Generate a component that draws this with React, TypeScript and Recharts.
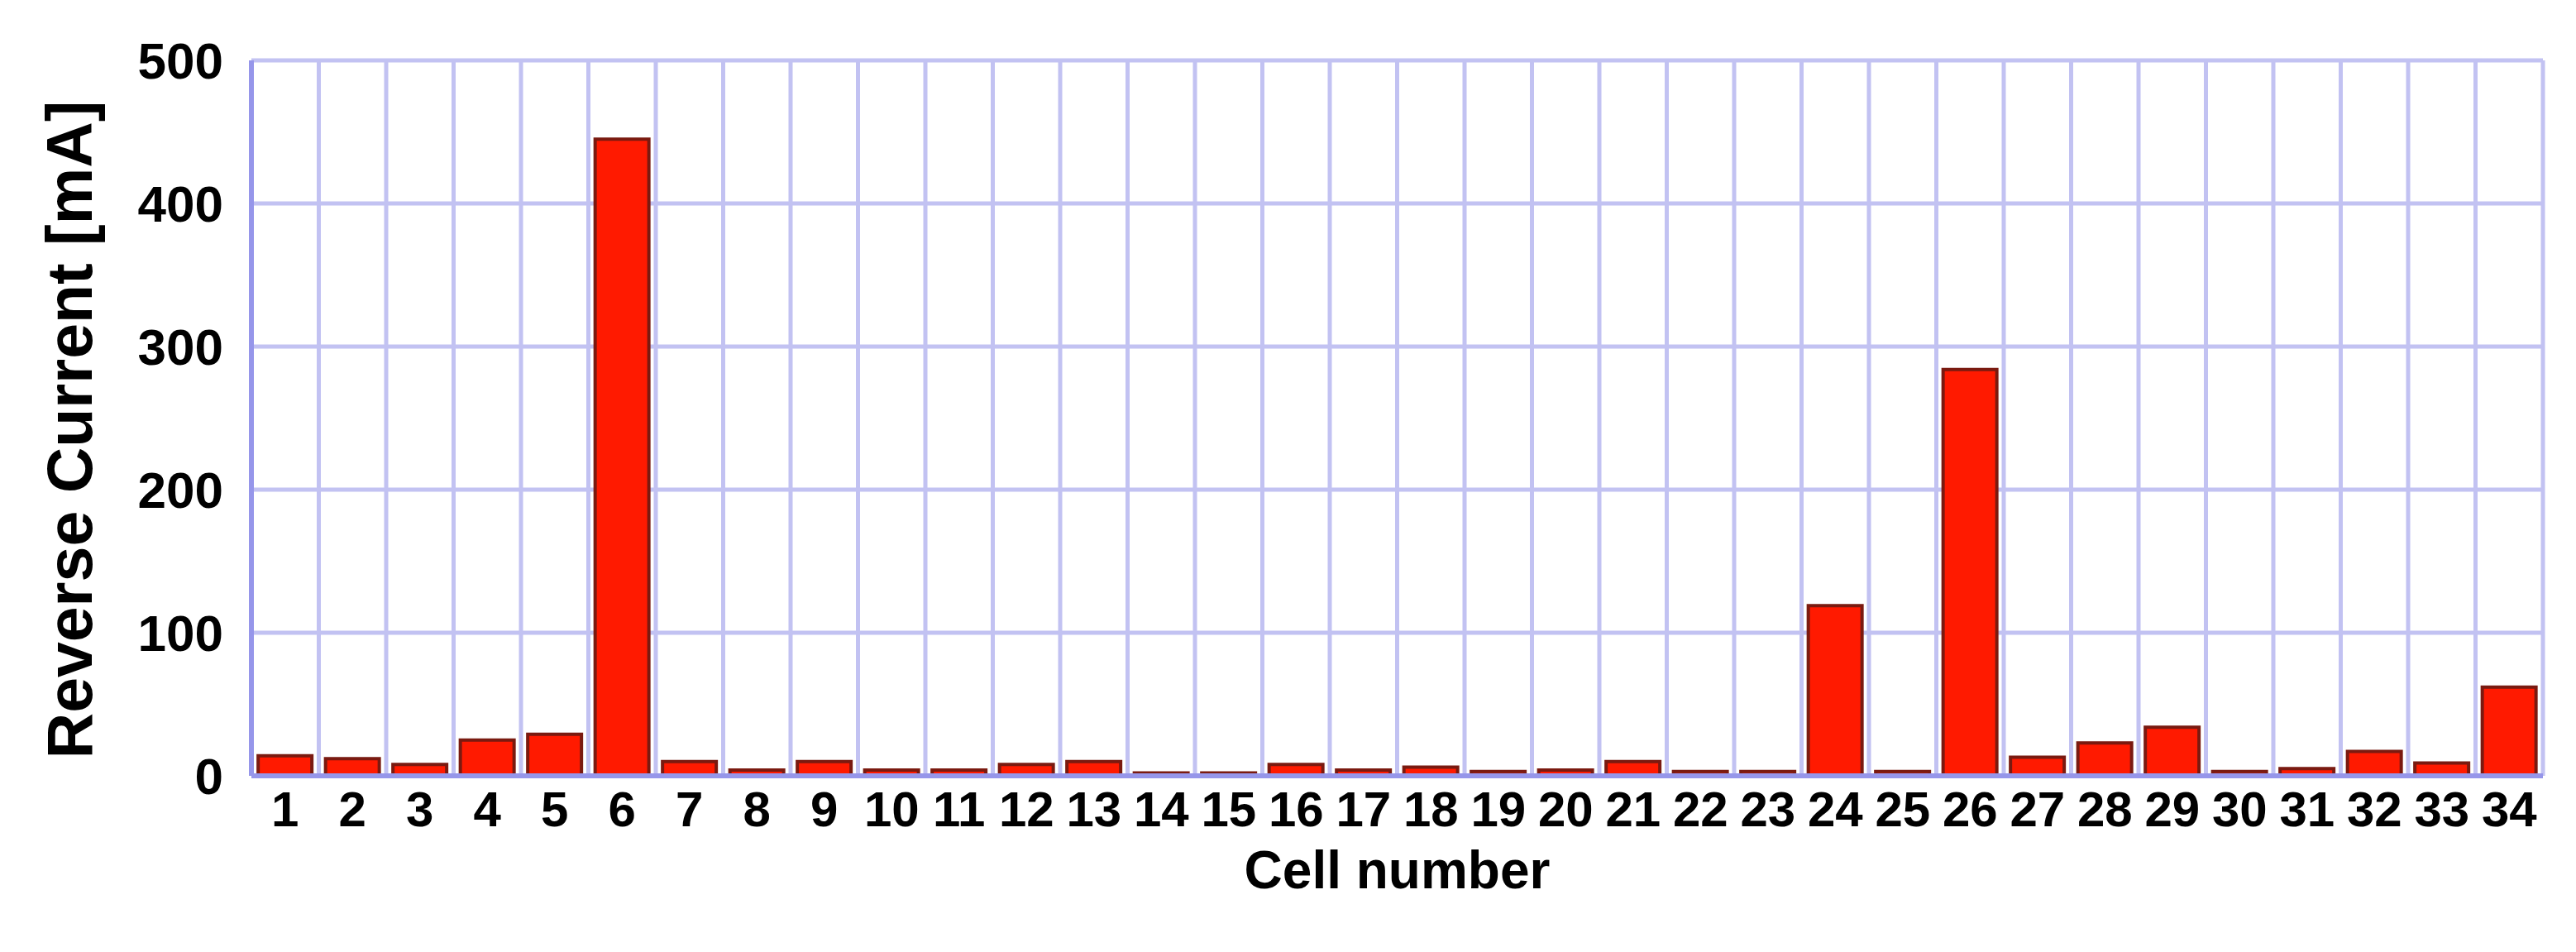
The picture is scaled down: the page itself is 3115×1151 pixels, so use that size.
import React from 'react'
import {
  BarChart,
  Bar,
  XAxis,
  YAxis,
  CartesianGrid,
} from 'recharts'

const cells = [
  '1', '2', '3', '4', '5', '6', '7', '8', '9', '10', '11', '12', '13', '14', '15', '16', '17',
  '18', '19', '20', '21', '22', '23', '24', '25', '26', '27', '28', '29', '30', '31', '32', '33', '34',
]
const reverseCurrent = [
  14, 12, 8, 25, 29, 445, 10, 4, 10, 4, 4, 8, 10, 2, 2, 8, 4,
  6, 3, 4, 10, 3, 3, 119, 3, 284, 13, 23, 34, 3, 5, 17, 9, 62,
]
const yTicks = [0, 100, 200, 300, 400, 500]

const data = cells.map((cell, i) => ({ cell, current: reverseCurrent[i] }))

const FONT = '"Liberation Sans", Arial, sans-serif'
const GRID = '#c2c2f2'
const BORDER = '#9696ea'

export default function App() {
  const tickStyle = { fontFamily: FONT, fontWeight: 700, fill: '#000' }

  return (
    <div style={{ width: 3099, height: 1135 }}>
      <BarChart
        width={3099}
        height={1135}
        data={data}
        margin={{ top: 65, right: 32, left: 0, bottom: 55 }}
        barCategoryGap="10%"
      >
        <CartesianGrid
          stroke={GRID}
          strokeWidth={5}
          verticalCoordinatesGenerator={({ offset }: any) =>
            cells.map((_, i) => offset.left + (i * offset.width) / cells.length).concat(offset.left + offset.width)
          }
        />
        <XAxis
          dataKey="cell"
          interval={0}
          tickSize={0}
          tickMargin={18}
          height={150}
          stroke={BORDER}
          strokeWidth={6}
          tick={{ ...tickStyle, fontSize: 60 }}
          label={{
            value: 'Cell number',
            position: 'insideBottom',
            offset: 14,
            style: { fontFamily: FONT, fontWeight: 700, fontSize: 64, fill: '#000' },
          }}
        />
        <XAxis
          xAxisId="top"
          dataKey="cell"
          orientation="top"
          height={0}
          tick={false}
          tickLine={false}
          stroke={BORDER}
          strokeWidth={6}
        />
        <YAxis
          domain={[0, 500]}
          ticks={yTicks}
          width={296}
          tickSize={0}
          tickMargin={34}
          stroke={BORDER}
          strokeWidth={6}
          tick={{ ...tickStyle, fontSize: 62 }}
          label={{
            value: 'Reverse Current [mA]',
            angle: -90,
            position: 'insideLeft',
            offset: 76,
            dy: 14,
            style: { fontFamily: FONT, fontWeight: 700, fontSize: 77, fill: '#000', textAnchor: 'middle' },
          }}
        />
        <YAxis
          yAxisId="right"
          orientation="right"
          width={0}
          tick={false}
          tickLine={false}
          stroke={BORDER}
          strokeWidth={6}
        />
        <Bar
          dataKey="current"
          fill="#ff1a00"
          stroke="#7a1a10"
          strokeWidth={4}
          isAnimationActive={false}
        />
      </BarChart>
    </div>
  )
}
